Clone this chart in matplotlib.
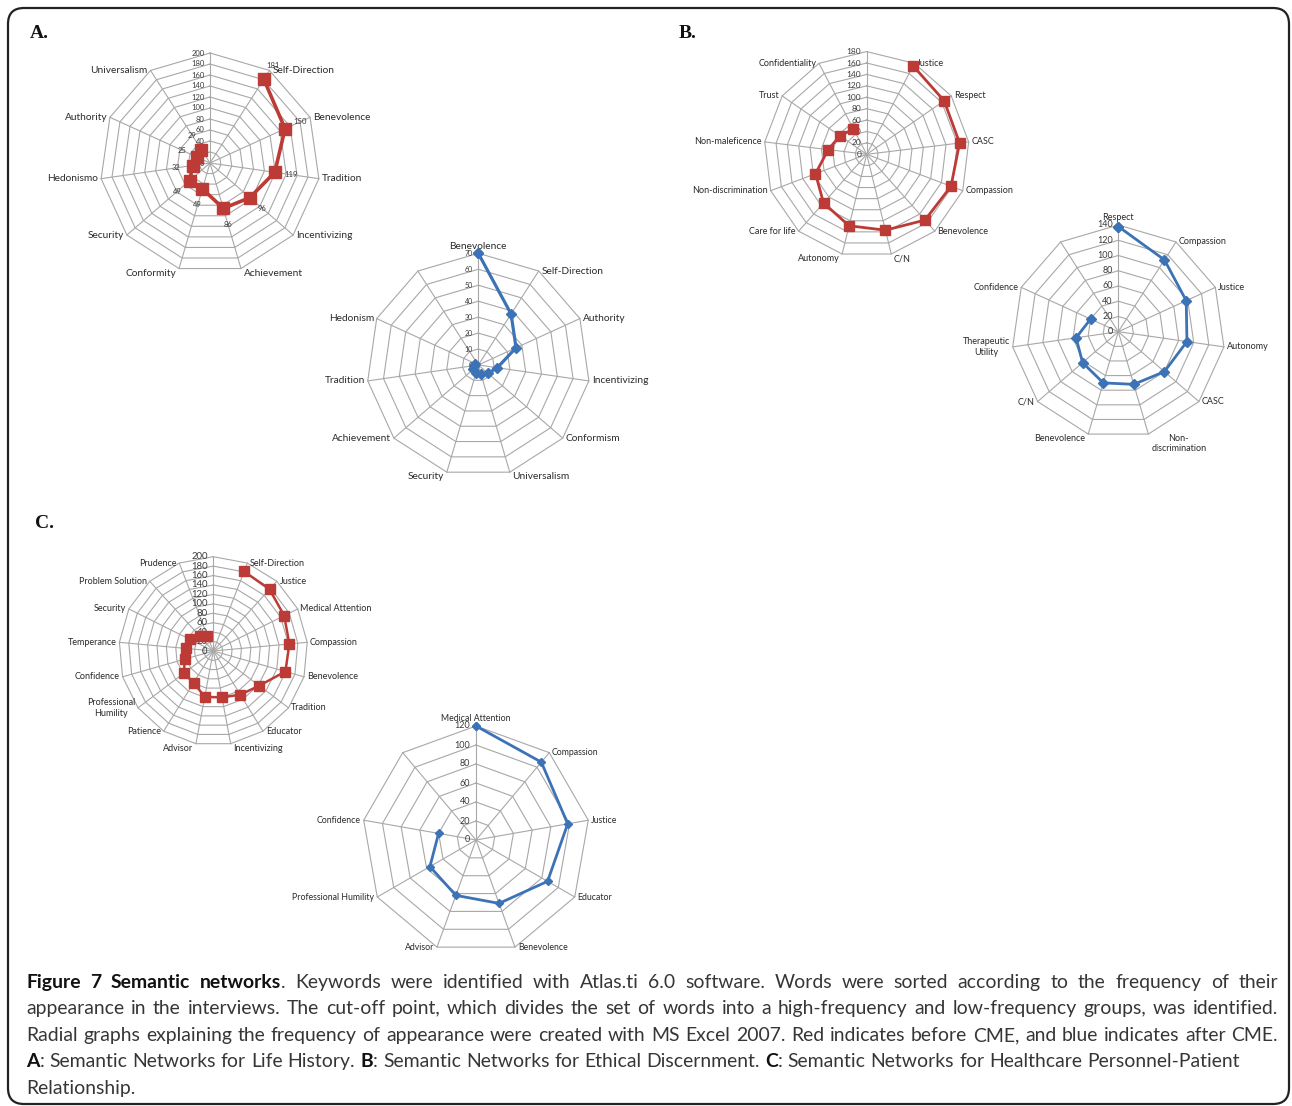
import numpy as np
import matplotlib
matplotlib.use("Agg")
import matplotlib.pyplot as plt
from matplotlib.patches import FancyBboxPatch

nan = np.nan

# ---------------- data ----------------
a_before_cats = ["", "Self-Direction", "Benevolence", "Tradition", "Incentivizing", "Achievement",
                 "Conformity", "Security", "Hedonismo", "Authority", "Universalism"]
a_before_vals = [nan, 181, 150, 119, 96, 86, 49, 49, 32, 25, 29]

a_after_cats = ["Benevolence", "Self-Direction", "Authority", "Incentivizing", "Conformism",
                "Universalism", "Security", "Achievement", "Tradition", "Hedonism", ""]
a_after_vals = [70, 38, 26, 12, 8, 6, 5, 4, 3, 2, nan]

b_before_cats = ["", "Justice", "Respect", "CASC", "Compassion", "Benevolence", "C/N", "Autonomy",
                 "Care for life", "Non-discrimination", "Non-maleficence", "Trust", "Confidentiality"]
b_before_vals = [nan, 175, 165, 164, 158, 154, 137, 129, 114, 96, 68, 57, 50]

b_after_cats = ["Respect", "Compassion", "Justice", "Autonomy", "CASC", "Non-\ndiscrimination",
                "Benevolence", "C/N", "Therapeutic\nUtility", "Confidence", ""]
b_after_vals = [138, 112, 98, 91, 80, 72, 70, 62, 56, 40, nan]

c_before_cats = ["", "Self-Direction", "Justice", "Medical Attention", "Compassion", "Benevolence",
                 "Tradition", "Educator", "Incentivizing", "Advisor", "Patience",
                 "Professional\nHumility", "Confidence", "Temperance", "Security",
                 "Problem Solution", "Prudence"]
c_before_vals = [nan, 181, 177, 168, 162, 159, 122, 109, 100, 99, 79, 78, 63, 58, 55, 42, 35]

c_after_cats = ["Medical Attention", "Compassion", "Justice", "Educator", "Benevolence", "Advisor",
                "Professional Humility", "Confidence", ""]
c_after_vals = [120, 107, 98, 87, 71, 62, 56, 40, nan]

# ---------------- figure ----------------
W, H = 1292, 1106
fig = plt.figure(figsize=(W / 100, H / 100), dpi=100)

RED = "#bd3b36"
BLUE = "#3c72b6"
GRID = "#a8a8a8"
TXT = "#2a2a2a"
LABFONT = ["Lato", "DejaVu Sans"]

# frame
bg = fig.add_axes([0, 0, 1, 1])
bg.set_xlim(0, W)
bg.set_ylim(H, 0)
bg.axis("off")
bg.add_patch(FancyBboxPatch((8, 8), 1281, 1096, boxstyle="round,pad=0,rounding_size=16",
                            fill=False, lw=1.6, ec="#222222"))
for txt, x, y in [("A.", 30, 33), ("B.", 679, 33), ("C.", 35, 523)]:
    bg.text(x, y, txt, fontsize=14, fontweight="bold", family="Liberation Serif",
            ha="left", va="center", color="#111111")


def radar(cx, cy, R, vmax, step, cats, vals, color, marker, ms, lw, lab_fs, tick_fs,
          data_labels=False):
    half = R + 4
    ax = fig.add_axes([(cx - half) / W, 1 - (cy + half) / H, 2 * half / W, 2 * half / H])
    lim = vmax * half / R
    ax.set_xlim(-lim, lim)
    ax.set_ylim(-lim, lim)
    ax.axis("off")
    n = len(cats)
    th = 2 * np.pi * np.arange(n) / n
    thc = np.append(th, th[0])
    for r in np.arange(step, vmax + step / 2, step):
        ax.plot(r * np.sin(thc), r * np.cos(thc), color=GRID, lw=0.8, zorder=1)
    for t in th:
        ax.plot([0, vmax * np.sin(t)], [0, vmax * np.cos(t)], color=GRID, lw=0.8, zorder=1)
    for v in np.arange(0, vmax + step / 2, step):
        ax.annotate(f"{int(v)}", xy=(0, v), xytext=(-4, 0), textcoords="offset points",
                    ha="right", va="center", fontsize=tick_fs, color="#3a3a3a",
                    family=LABFONT, zorder=2)
    for c, t in zip(cats, th):
        if not c:
            continue
        s, co = np.sin(t), np.cos(t)
        if abs(s) < 0.05:
            ha = "center"
        elif s > 0:
            ha = "left"
        else:
            ha = "right"
        if co > 0.95:
            va = "bottom"
        elif co < -0.95:
            va = "top"
        else:
            va = "center"
        dx = 2 * np.sign(s) if abs(s) >= 0.05 else 0
        dy = 2 if co > 0.95 else 0
        ax.annotate(c, xy=(vmax * s, vmax * co), xytext=(dx, dy), textcoords="offset points",
                    ha=ha, va=va, fontsize=lab_fs, color=TXT, family=LABFONT,
                    multialignment="center", zorder=2)
    v = np.asarray(vals, dtype=float)
    x = np.append(v * np.sin(th), v[0] * np.sin(th[0]))
    y = np.append(v * np.cos(th), v[0] * np.cos(th[0]))
    ax.plot(x, y, color=color, lw=lw, marker=marker, ms=ms, mfc=color, mec=color,
            clip_on=False, zorder=3)
    if data_labels:
        for val, t in zip(v, th):
            if np.isnan(val):
                continue
            ax.annotate(f"{int(val)}", xy=(val * np.sin(t), val * np.cos(t)),
                        xytext=(12 * np.sin(t), 12 * np.cos(t)), textcoords="offset points",
                        ha="center", va="center", fontsize=5.5, color="#3a3a3a",
                        family=LABFONT, zorder=4)
    return ax


radar(210, 163, 110, 200, 20, a_before_cats, a_before_vals, RED, "s", 8.5, 2.6, 7.3, 5.5,
      data_labels=True)
radar(478.3, 365, 111.7, 70, 10, a_after_cats, a_after_vals, BLUE, "D", 5.5, 2.3, 7.3, 5)
radar(866.7, 154.3, 102.7, 180, 20, b_before_cats, b_before_vals, RED, "s", 6.5, 2.0, 6.5, 6)
radar(1118.3, 331.7, 106.7, 140, 20, b_after_cats, b_after_vals, BLUE, "D", 5.0, 2.0, 6.5, 6.5)
radar(213.3, 651, 94.3, 200, 20, c_before_cats, c_before_vals, RED, "s", 7.0, 1.8, 6.5, 6.8)
radar(476, 840, 114, 120, 20, c_after_cats, c_after_vals, BLUE, "D", 4.5, 2.0, 6.3, 6.5)

# ---------------- caption ----------------
CAPFONT = ["Lato", "DejaVu Sans"]
CAPCOL = "#363636"
B, N = True, False


def words(s):
    return [[(w, N)] for w in s.split()]


lines = [
    [[("Figure", B)], [("7", B)], [("Semantic", B)], [("networks", B), (".", N)]]
    + words("Keywords were identified with Atlas.ti 6.0 software. Words were sorted according to the frequency of their"),
    words("appearance in the interviews. The cut-off point, which divides the set of words into a high-frequency and low-frequency groups, was identified."),
    words("Radial graphs explaining the frequency of appearance were created with MS Excel 2007. Red indicates before CME, and blue indicates after CME."),
    [[("A", B), (":", N)]] + words("Semantic Networks for Life History.")
    + [[("B", B), (":", N)]] + words("Semantic Networks for Ethical Discernment.")
    + [[("C", B), (":", N)]] + words("Semantic Networks for Healthcare Personnel-Patient"),
    words("Relationship."),
]
justify = [True, True, True, False, False]
baselines = [988, 1014, 1041, 1067, 1094]
LEFT, RIGHT = 26, 1278

renderer = fig.canvas.get_renderer()


def mw(txt, bold, fs):
    t = bg.text(0, 0, txt, fontsize=fs, fontweight="bold" if bold else "normal", family=CAPFONT)
    w = t.get_window_extent(renderer).width
    t.remove()
    return w


def word_w(word, fs):
    return sum(mw(t, b, fs) for t, b in word)


def space_w(fs):
    return mw("x x", N, fs) - mw("xx", N, fs)


fs0 = 12.0
nat4 = sum(word_w(w, fs0) for w in lines[3]) + space_w(fs0) * (len(lines[3]) - 1)
fs = fs0 * (1232 - LEFT) / nat4

sp = space_w(fs)
for line, jus, yb in zip(lines, justify, baselines):
    widths = [word_w(w, fs) for w in line]
    gap = (RIGHT - LEFT - sum(widths)) / (len(line) - 1) if jus else sp
    x = LEFT
    for w, wd in zip(line, widths):
        xx = x
        for t, b in w:
            bg.text(xx, yb, t, fontsize=fs, fontweight="bold" if b else "normal",
                    family=CAPFONT, color="#111111" if b else CAPCOL, ha="left", va="baseline")
            xx += mw(t, b, fs)
        x += wd + gap

fig.savefig("out.png", dpi=100)
